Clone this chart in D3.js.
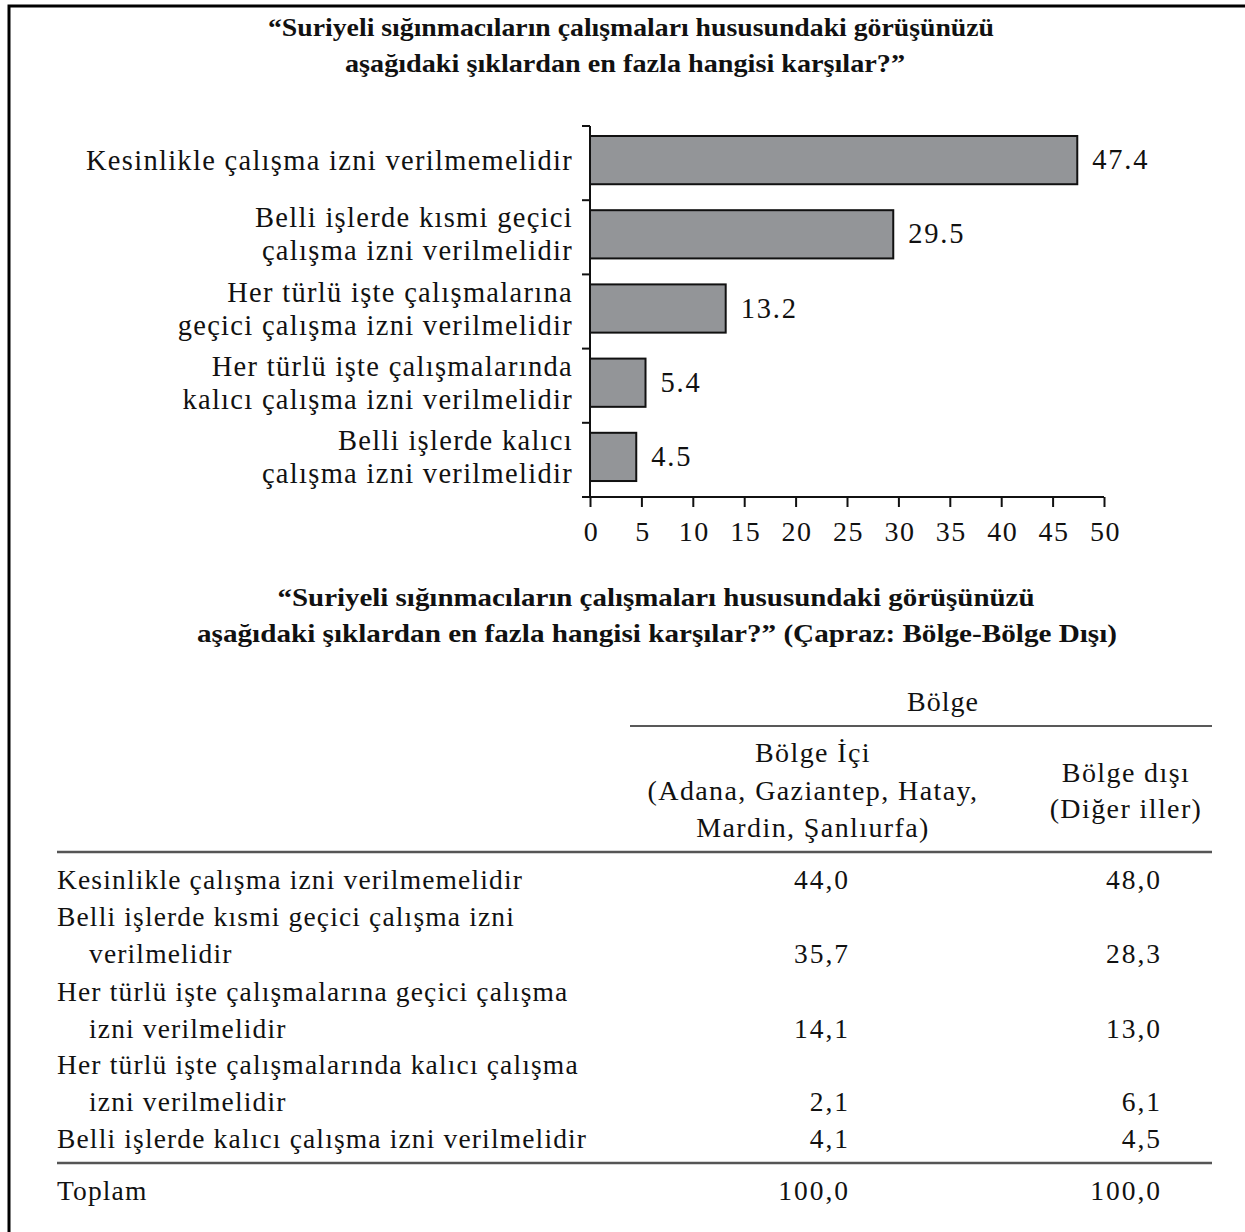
<!DOCTYPE html>
<html lang="tr">
<head>
    <meta charset="UTF-8">
    <title>Suriyeli sığınmacıların çalışmaları</title>
    <script src="https://d3js.org/d3.v7.min.js"></script>
    <style>
        body { margin: 0; background: #fff; }
        svg text { font-family: "Liberation Serif", "DejaVu Serif", serif; fill: #111; }
    </style>
</head>
<body>
    <svg id="graphic" width="1245" height="1232"></svg>
    <script>
        // chart data
        const categories = [
            ["Kesinlikle çalışma izni verilmemelidir"],
            ["Belli işlerde kısmi geçici", "çalışma izni verilmelidir"],
            ["Her türlü işte çalışmalarına", "geçici çalışma izni verilmelidir"],
            ["Her türlü işte çalışmalarında", "kalıcı çalışma izni verilmelidir"],
            ["Belli işlerde kalıcı", "çalışma izni verilmelidir"]
        ];
        const values = [47.4, 29.5, 13.2, 5.4, 4.5];
        const xTicks = [0, 5, 10, 15, 20, 25, 30, 35, 40, 45, 50];

        const chartTitle = [
            "“Suriyeli sığınmacıların çalışmaları hususundaki görüşünüzü",
            "aşağıdaki şıklardan en fazla hangisi karşılar?”"
        ];
        const tableTitle = [
            "“Suriyeli sığınmacıların çalışmaları hususundaki görüşünüzü",
            "aşağıdaki şıklardan en fazla hangisi karşılar?” (Çapraz: Bölge-Bölge Dışı)"
        ];

        // table data
        const tableRows = [
            ["Kesinlikle çalışma izni verilmemelidir"],
            ["Belli işlerde kısmi geçici çalışma izni", "verilmelidir"],
            ["Her türlü işte çalışmalarına geçici çalışma", "izni verilmelidir"],
            ["Her türlü işte çalışmalarında kalıcı çalışma", "izni verilmelidir"],
            ["Belli işlerde kalıcı çalışma izni verilmelidir"]
        ];
        const bolgeIci = [44.0, 35.7, 14.1, 2.1, 4.1];
        const bolgeDisi = [48.0, 28.3, 13.0, 6.1, 4.5];
        const toplam = [100.0, 100.0];
        const groupHeader = "Bölge";
        const colHeaders = [
            ["Bölge İçi", "(Adana, Gaziantep, Hatay,", "Mardin, Şanlıurfa)"],
            ["Bölge dışı", "(Diğer iller)"]
        ];

        const svg = d3.select("#graphic");

        // frame
        svg.append("path")
            .attr("d", "M9,1232 V6 H1245")
            .attr("fill", "none")
            .attr("stroke", "#000")
            .attr("stroke-width", 3);

        function titleBlock(lines, cx, ys, widths) {
            lines.forEach((t, i) => {
                svg.append("text")
                    .attr("x", cx[i]).attr("y", ys[i])
                    .attr("text-anchor", "middle")
                    .attr("font-size", 25)
                    .attr("font-weight", "bold")
                    .attr("textLength", widths[i])
                    .attr("lengthAdjust", "spacingAndGlyphs")
                    .text(t);
            });
        }

        titleBlock(chartTitle, [631, 625], [36, 72], [726, 560]);

        // bar chart
        const x = d3.scaleLinear().domain([0, 50]).range([590, 1104]);
        const y = d3.scaleBand().domain(d3.range(values.length)).range([126, 497])
            .paddingInner(0.35).paddingOuter(0.175).align(0.385);

        const g = svg.append("g");

        g.selectAll("rect.bar").data(values).enter().append("rect")
            .attr("class", "bar")
            .attr("x", x(0))
            .attr("y", (d, i) => y(i))
            .attr("width", d => x(d) - x(0))
            .attr("height", y.bandwidth())
            .attr("fill", "#939598")
            .attr("stroke", "#111")
            .attr("stroke-width", 2);

        g.selectAll("text.val").data(values).enter().append("text")
            .attr("class", "val")
            .attr("x", d => x(d) + 15)
            .attr("y", (d, i) => y(i) + y.bandwidth() / 2 + 9)
            .attr("font-size", 28.5)
            .attr("letter-spacing", 1.8)
            .text(d => d.toFixed(1));

        // category labels
        categories.forEach((lines, i) => {
            const cy = y(i) + y.bandwidth() / 2;
            const lh = 33;
            lines.forEach((t, j) => {
                g.append("text")
                    .attr("x", 573)
                    .attr("y", cy + (j - (lines.length - 1) / 2) * lh + 9.5)
                    .attr("text-anchor", "end")
                    .attr("font-size", 28.5)
                    .attr("letter-spacing", 1.3)
                    .text(t);
            });
        });

        // y axis with ticks at band edges
        const yAxisX = x(0);
        g.append("line")
            .attr("x1", yAxisX).attr("x2", yAxisX)
            .attr("y1", 126).attr("y2", 497)
            .attr("stroke", "#111").attr("stroke-width", 2);
        const edges = d3.range(values.length + 1).map(i => 126 + i * (497 - 126) / values.length);
        g.selectAll("line.ytick").data(edges).enter().append("line")
            .attr("class", "ytick")
            .attr("x1", yAxisX - 8).attr("x2", yAxisX)
            .attr("y1", d => d).attr("y2", d => d)
            .attr("stroke", "#111").attr("stroke-width", 2);

        // x axis
        const xAxis = d3.axisBottom(x).tickValues(xTicks).tickSize(10).tickSizeOuter(0).tickPadding(14);
        const xg = g.append("g").attr("transform", "translate(0,497)").call(xAxis);
        xg.select(".domain").attr("stroke", "#111").attr("stroke-width", 2)
            .attr("d", `M${yAxisX - 8},0H${x(50)}`);
        xg.selectAll(".tick line").attr("stroke", "#111").attr("stroke-width", 2);
        xg.selectAll(".tick text")
            .attr("font-size", 28)
            .attr("font-family", "Liberation Serif, serif")
            .attr("fill", "#111")
            .attr("letter-spacing", 1.5)
            .attr("dx", 1)
            .attr("dy", "0.71em");

        // table
        titleBlock(tableTitle, [656, 657], [606, 642], [757, 920]);

        const fmt = v => v.toFixed(1).replace(".", ",");
        const tsize = 27.5;
        const col1 = 850, col2 = 1162;

        svg.append("text")
            .attr("x", 943).attr("y", 711)
            .attr("text-anchor", "middle")
            .attr("font-size", 28)
            .attr("letter-spacing", 1)
            .text(groupHeader);
        svg.append("line")
            .attr("x1", 630).attr("x2", 1212)
            .attr("y1", 726).attr("y2", 726)
            .attr("stroke", "#222").attr("stroke-width", 1.5);

        const headCx = [813, 1126];
        const headYs = [[762, 800, 837], [782, 818]];
        colHeaders.forEach((lines, c) => {
            lines.forEach((t, j) => {
                svg.append("text")
                    .attr("x", headCx[c]).attr("y", headYs[c][j])
                    .attr("text-anchor", "middle")
                    .attr("font-size", 28)
                    .attr("letter-spacing", 1.4)
                    .text(t);
            });
        });

        [852, 1163].forEach(ly => {
            svg.append("line")
                .attr("x1", 57).attr("x2", 1212)
                .attr("y1", ly).attr("y2", ly)
                .attr("stroke", "#555").attr("stroke-width", 2.5);
        });

        // row layout: first line baseline of each row
        const rowY = [889, 926, 1001, 1074, 1148];
        const lineH = 36.5;
        tableRows.forEach((lines, i) => {
            lines.forEach((t, j) => {
                svg.append("text")
                    .attr("x", j === 0 ? 57 : 89)
                    .attr("y", rowY[i] + j * lineH)
                    .attr("font-size", tsize)
                    .attr("letter-spacing", 1.15)
                    .text(t);
            });
            const vy = rowY[i] + (lines.length - 1) * lineH;
            svg.append("text")
                .attr("x", col1).attr("y", vy)
                .attr("text-anchor", "end").attr("font-size", tsize)
                .attr("letter-spacing", 2)
                .text(fmt(bolgeIci[i]));
            svg.append("text")
                .attr("x", col2).attr("y", vy)
                .attr("text-anchor", "end").attr("font-size", tsize)
                .attr("letter-spacing", 2)
                .text(fmt(bolgeDisi[i]));
        });

        svg.append("text")
            .attr("x", 57).attr("y", 1200)
            .attr("font-size", tsize)
            .attr("letter-spacing", 1.15)
            .text("Toplam");
        [col1, col2].forEach((cx, k) => {
            svg.append("text")
                .attr("x", cx).attr("y", 1200)
                .attr("text-anchor", "end").attr("font-size", tsize)
                .attr("letter-spacing", 2)
                .text(fmt(toplam[k]));
        });
    </script>
</body>
</html>
